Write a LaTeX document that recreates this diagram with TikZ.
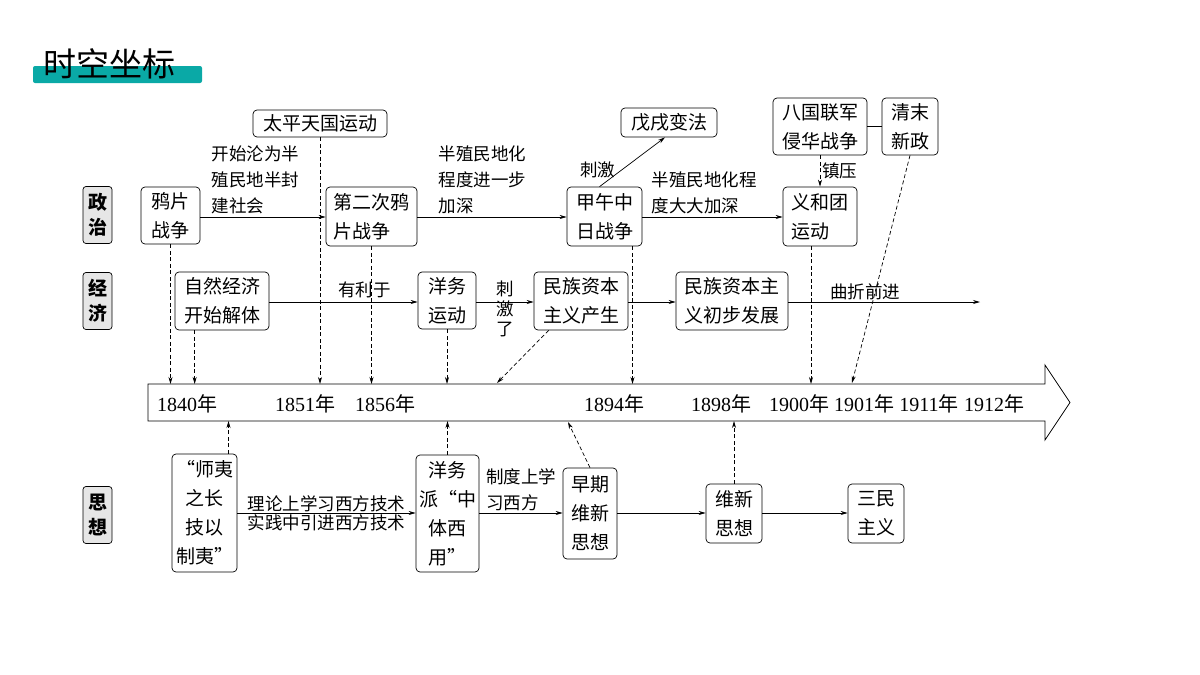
\documentclass[tikz,border=0pt]{standalone}
\usepackage{fontspec}
\setmainfont{Liberation Serif}
\newfontfamily\cjk{Noto Sans CJK SC}
\usetikzlibrary{positioning,arrows.meta,calc}
\definecolor{teal1}{HTML}{0AA9A6}
\definecolor{gray1}{HTML}{E6E6E6}
\newcommand{\yr}[1]{#1{\cjk 年}}
\begin{document}
\begin{tikzpicture}[x=1pt,y=-1pt,
    >={Stealth[length=7pt,width=4pt]},
    ebox/.style={draw, rounded corners=4pt, line width=0.7pt, inner sep=2pt,
                 align=left, font=\cjk\fontsize{19}{29}\selectfont},
    rlab/.style={draw, rounded corners=3pt, fill=gray1, line width=0.7pt,
                 minimum width=29pt, minimum height=57pt, inner sep=0pt,
                 align=center, font=\cjk\bfseries\fontsize{19}{25}\selectfont},
    lab/.style={align=left, inner sep=1pt, font=\cjk\fontsize{17.5}{26}\selectfont},
    year/.style={font=\fontsize{20}{22}\selectfont, inner sep=0pt},
    arr/.style={->, line width=0.7pt},
    darr/.style={->, line width=0.7pt, dashed, dash pattern=on 4pt off 2.5pt},
]
\useasboundingbox (0,0) rectangle (1200,675);

% title
\fill[teal1, rounded corners=2pt] (33,66) rectangle (202,83);
\node[font=\cjk\fontsize{33}{35}\selectfont, anchor=west, inner sep=0pt] (title) at (43,64) {时空坐标};

% row labels
\node[rlab] (zz) at (97.5,215) {政\\治};
\node[rlab] (jj) at (97.5,301) {经\\济};
\node[rlab] (sx) at (97.5,515) {思\\想};

% politics
\node[ebox, minimum width=59pt, minimum height=57pt] (ypzz) at (170.5,215.5) {鸦片\\战争};
\node[ebox, minimum width=134pt, minimum height=27pt, inner sep=1pt] (tptg) at (320,123.5) {太平天国运动};
\node[ebox, minimum width=91pt, minimum height=59pt] (decyp) at (371.5,216.5) {第二次鸦\\片战争};
\node[ebox, minimum width=75pt, minimum height=59pt] (jwzz) at (604.5,216.5) {甲午中\\日战争};
\node[ebox, minimum width=96pt, minimum height=29pt, inner sep=1pt] (wxbf) at (669,122.5) {戊戌变法};
\node[ebox, minimum width=94pt, minimum height=57pt] (bglj) at (820,126.5) {八国联军\\侵华战争};
\node[ebox, minimum width=56pt, minimum height=57pt] (qmxz) at (910,126.5) {清末\\新政};
\node[ebox, minimum width=74pt, minimum height=59pt] (yht) at (820,216.5) {义和团\\运动};

% economy
\node[ebox, minimum width=94pt, minimum height=58pt] (zrjj) at (222,301) {自然经济\\开始解体};
\node[ebox, minimum width=58pt, minimum height=57pt] (ywyd) at (447,300.5) {洋务\\运动};
\node[ebox, minimum width=94pt, minimum height=58pt] (mzcs) at (581,301) {民族资本\\主义产生};
\node[ebox, minimum width=112pt, minimum height=58pt] (mzfz) at (732,301) {民族资本主\\义初步发展};
\coordinate (jjend) at (980,302);

% time axis
\draw[line width=0.8pt] (148,384) -- (1045,384) -- (1045,365) -- (1070,402.5)
      -- (1045,440) -- (1045,421) -- (148,421) -- cycle;
\coordinate (axt) at (0,384);
\coordinate (axb) at (0,421);
\node[year] (y1840) at (187,403.5) {\yr{1840}};
\node[year] (y1851) at (305,403.5) {\yr{1851}};
\node[year] (y1856) at (385,403.5) {\yr{1856}};
\node[year] (y1894) at (614,403.5) {\yr{1894}};
\node[year] (y1898) at (721,403.5) {\yr{1898}};
\node[year] (y1900) at (799,403.5) {\yr{1900}};
\node[year] (y1901) at (864,403.5) {\yr{1901}};
\node[year] (y1911) at (929,403.5) {\yr{1911}};
\node[year] (y1912) at (994,403.5) {\yr{1912}};

% thought
\node[ebox, minimum width=65pt, minimum height=118pt, align=center] (syzc) at (204.5,513) {“师夷\\之长\\技以\\制夷”};
\node[ebox, minimum width=63pt, minimum height=117pt, align=center] (ywp) at (447.5,513.5) {洋务\\派“中\\体西\\用”};
\node[ebox, minimum width=54pt, minimum height=91pt, align=center] (zqwx) at (590,513.5) {早期\\维新\\思想};
\node[ebox, minimum width=56pt, minimum height=59pt, align=center] (wxsx) at (734,513.5) {维新\\思想};
\node[ebox, minimum width=56pt, minimum height=59pt, align=center] (smzy) at (876,513.5) {三民\\主义};

% solid arrows
\draw[arr] (ypzz.east |- 0,217) -- (decyp.west |- 0,217);
\node[lab, anchor=south west] (l1) at ([xshift=10pt]ypzz.east |- 0,215) {开始沦为半\\殖民地半封\\建社会};
\draw[arr] (decyp.east |- 0,217) -- (jwzz.west |- 0,217);
\node[lab, anchor=south west] (l2) at ([xshift=20pt]decyp.east |- 0,215) {半殖民地化\\程度进一步\\加深};
\draw[arr] (jwzz.east |- 0,217) -- (yht.west |- 0,217);
\node[lab, anchor=south west] (l3) at ([xshift=8pt]jwzz.east |- 0,215) {半殖民地化程\\度大大加深};
\draw[arr] ([xshift=-5pt]jwzz.north) -- ([xshift=-4pt]wxbf.south)
   node[lab, pos=0.35, left=6pt] (l4) {刺激};
\draw[line width=0.7pt] (bglj.east) -- (qmxz.west);
\draw[darr] (bglj.south) -- (yht.north) node[lab, midway, right=1pt] (l5) {镇压};
\draw[arr] (zrjj.east |- 0,302) -- (ywyd.west |- 0,302)
   node[lab, pos=0.64, above=3pt] (l6) {有利于};
\draw[arr] (ywyd.east |- 0,302) -- (mzcs.west |- 0,302);
\node[lab, align=center, font=\cjk\fontsize{17.5}{20}\selectfont] (l7) at (505,309) {刺\\激\\了};
\draw[arr] (mzcs.east |- 0,302) -- (mzfz.west |- 0,302);
\draw[arr] (mzfz.east |- 0,302) -- (jjend)
   node[lab, pos=0.4, above=1pt] (l8) {曲折前进};
\draw[arr] (syzc.east |- 0,513) -- (ywp.west |- 0,513)
   node[lab, midway, above=0pt] (l9) {理论上学习西方技术}
   node[lab, midway, below=0pt] (l10) {实践中引进西方技术};
\draw[arr] (ywp.east |- 0,513) -- (zqwx.west |- 0,513)
   node[lab, midway, above=1pt] (l11) {制度上学\\习西方};
\draw[arr] (zqwx.east |- 0,513) -- (wxsx.west |- 0,513);
\draw[arr] (wxsx.east |- 0,513) -- (smzy.west |- 0,513);

% dashed arrows to the axis
\coordinate (p1) at ([xshift=20pt]zrjj.south west);
\coordinate (p2) at ([xshift=15pt]mzcs.south west);
\coordinate (p3) at ([xshift=28pt]jwzz.south);
\coordinate (p4) at ([xshift=-9pt]yht.south);
\coordinate (p5) at ([xshift=24pt]syzc.north);
\draw[darr] (ypzz.south) -- (ypzz.south |- axt);
\draw[darr] (p1) -- (p1 |- axt);
\draw[darr] (tptg.south) -- (tptg.south |- axt);
\draw[darr] (decyp.south) -- (decyp.south |- axt);
\draw[darr] (ywyd.south) -- (ywyd.south |- axt);
\draw[darr] (p2) -- (497,383);
\draw[darr] (p3) -- (p3 |- axt);
\draw[darr] (p4) -- (p4 |- axt);
\draw[darr] (qmxz.south) -- (852,383);
\draw[darr] (p5) -- (p5 |- axb);
\draw[darr] (ywp.north) -- (ywp.north |- axb);
\draw[darr] (zqwx.north) -- (568,422);
\draw[darr] (wxsx.north) -- (wxsx.north |- axb);
\end{tikzpicture}
\end{document}
